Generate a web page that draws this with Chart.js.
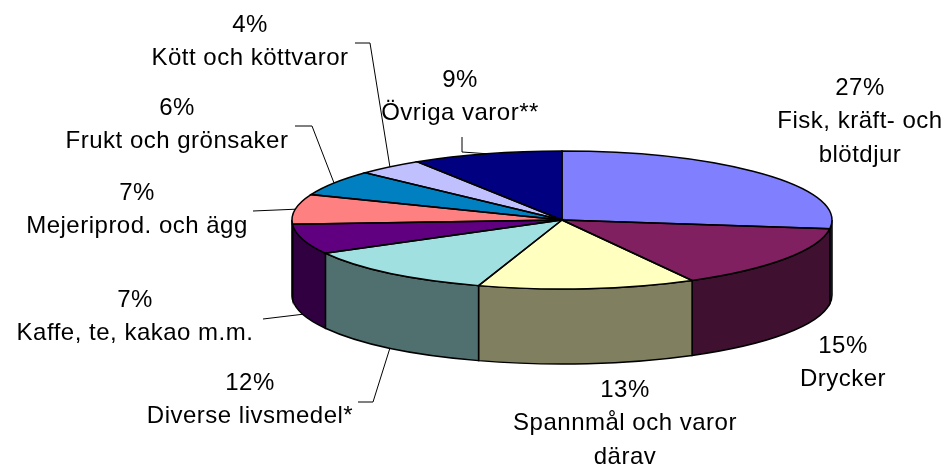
<!DOCTYPE html>
<html>
<head>
<meta charset="utf-8">
<script src="https://cdn.jsdelivr.net/npm/chart.js@4"></script>
<style>
  body { margin: 0; background: #fff; }
  #wrap { width: 949px; height: 466px; position: relative; }
</style>
</head>
<body>
<div id="wrap"><canvas id="pieChart"></canvas></div>
<script>
// data
const categories = [
    'Fisk, kräft- och\nblötdjur',
    'Drycker',
    'Spannmål och varor\ndärav',
    'Diverse livsmedel*',
    'Kaffe, te, kakao m.m.',
    'Mejeriprod. och ägg',
    'Frukt och grönsaker',
    'Kött och köttvaror',
    'Övriga varor**'
];
const values = [27, 15, 13, 12, 7, 7, 6, 4, 9];

// colours (top face / side wall)
const topColors = ['#8080FF', '#802060', '#FFFFC0', '#A0E0E0', '#600080', '#FF8080', '#0080C0', '#C0C0FF', '#000080'];
const sideColors = ['#404080', '#401030', '#808060', '#507070', '#300040', '#804040', '#004060', '#606080', '#000040'];

// layout of the tilted pie and its labels
const PIE = { cx: 562, cy: 220, rx: 270, ry: 69, depth: 75 };
const labelPos = [[860, 88], [843, 346], [625, 390], [250, 383], [135, 300], [137, 193], [177, 108], [250, 25], [460, 80]];
const leaders = [null, null, null,
    [[358, 402], [373, 402]],
    [[263, 319]],
    [[253, 211]],
    [[295, 126], [312, 126]],
    [[355, 43], [370, 43]],
    [[462, 137], [462, 152]]
];
const LINE_H = 33.5;

const pie3d = {
    id: 'pie3d',
    beforeDatasetsDraw(chart) {
        const ctx = chart.ctx;
        const arcs = chart.getDatasetMeta(0).data;
        ctx.save();
        ctx.lineWidth = 1.5;
        ctx.strokeStyle = '#000';
        arcs.forEach((arc, i) => {
            const a0 = Math.max(arc.startAngle, 0);
            const a1 = Math.min(arc.endAngle, Math.PI);
            if (a1 <= a0) return;
            ctx.beginPath();
            ctx.ellipse(PIE.cx, PIE.cy, PIE.rx, PIE.ry, 0, a0, a1);
            ctx.ellipse(PIE.cx, PIE.cy + PIE.depth, PIE.rx, PIE.ry, 0, a1, a0, true);
            ctx.closePath();
            ctx.fillStyle = sideColors[i];
            ctx.fill();
            ctx.stroke();
        });
        ctx.restore();
    },
    beforeDatasetDraw(chart) {
        const ctx = chart.ctx;
        const a = chart.getDatasetMeta(0).data[0];
        ctx.save();
        ctx.translate(PIE.cx, PIE.cy);
        ctx.scale(PIE.rx / a.outerRadius, PIE.ry / a.outerRadius);
        ctx.translate(-a.x, -a.y);
    },
    afterDatasetDraw(chart) {
        chart.ctx.restore();
    },
    afterDatasetsDraw(chart) {
        const ctx = chart.ctx;
        const arcs = chart.getDatasetMeta(0).data;
        ctx.save();
        // slice outlines on the top face
        ctx.lineWidth = 1.5;
        ctx.strokeStyle = '#000';
        arcs.forEach(arc => {
            ctx.beginPath();
            ctx.moveTo(PIE.cx, PIE.cy);
            ctx.ellipse(PIE.cx, PIE.cy, PIE.rx, PIE.ry, 0, arc.startAngle, arc.endAngle);
            ctx.closePath();
            ctx.stroke();
        });
        // leader lines
        ctx.lineWidth = 1;
        arcs.forEach((arc, i) => {
            if (!leaders[i]) return;
            const mid = (arc.startAngle + arc.endAngle) / 2;
            const ex = PIE.cx + PIE.rx * Math.cos(mid);
            const ey = PIE.cy + PIE.ry * Math.sin(mid) + (Math.sin(mid) > 0 ? PIE.depth : 0);
            ctx.beginPath();
            leaders[i].forEach((p, k) => k === 0 ? ctx.moveTo(p[0], p[1]) : ctx.lineTo(p[0], p[1]));
            ctx.lineTo(ex, ey);
            ctx.stroke();
        });
        // labels
        ctx.fillStyle = '#000';
        ctx.font = '24px "Liberation Sans", Arial, sans-serif';
        ctx.letterSpacing = '0.5px';
        ctx.textAlign = 'center';
        ctx.textBaseline = 'middle';
        categories.forEach((cat, i) => {
            const lines = [values[i] + '%'].concat(cat.split('\n'));
            lines.forEach((t, k) => ctx.fillText(t, labelPos[i][0], labelPos[i][1] + k * LINE_H));
        });
        ctx.restore();
    }
};

const ctx = document.getElementById('pieChart').getContext('2d');
const chart = new Chart(ctx, {
    type: 'pie',
    data: {
        labels: categories,
        datasets: [{
            data: values,
            backgroundColor: topColors,
            borderWidth: 0,
            clip: false
        }]
    },
    options: {
        responsive: true,
        maintainAspectRatio: false,
        animation: false,
        events: [],
        plugins: {
            legend: { display: false },
            tooltip: { enabled: false }
        }
    },
    plugins: [pie3d]
});
</script>
</body>
</html>
